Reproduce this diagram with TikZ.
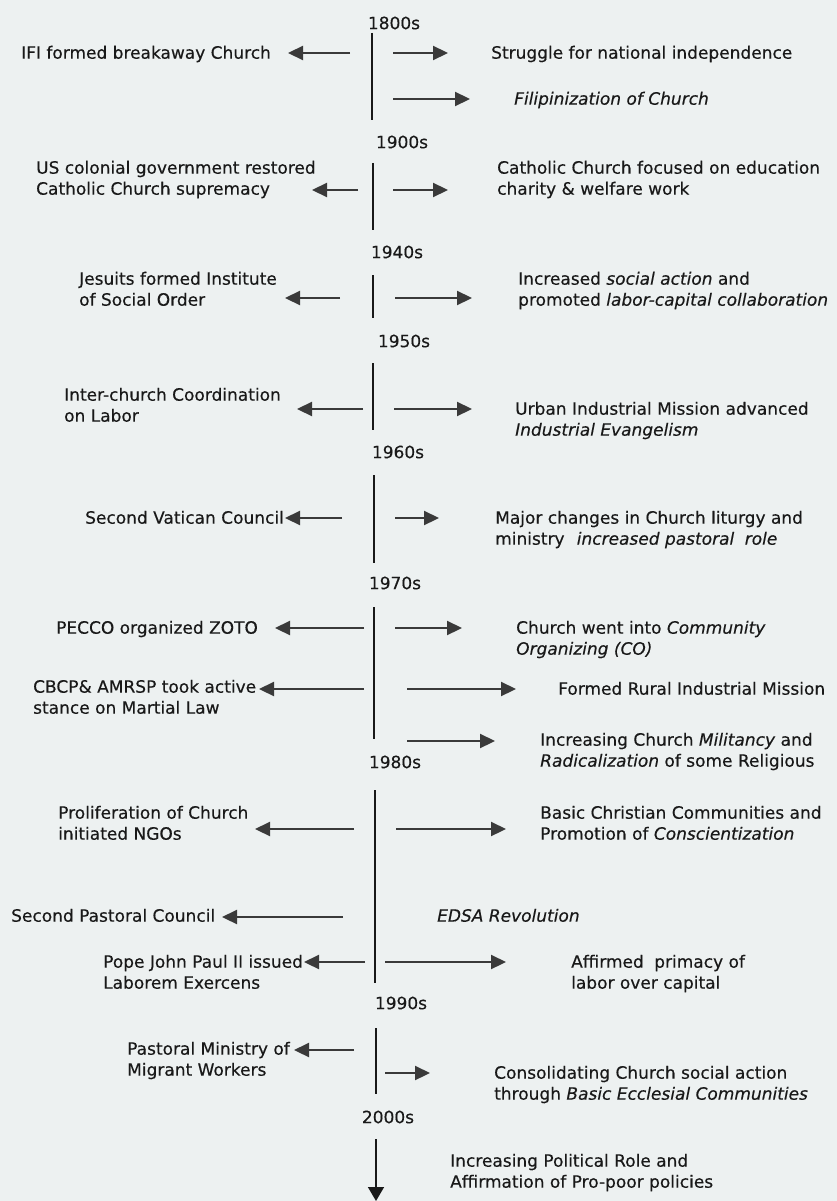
\documentclass[tikz,border=0pt]{standalone}
\usepackage{fontspec}
\setmainfont{DejaVu Sans}[FakeBold=0.35]
\usetikzlibrary{arrows.meta}
\definecolor{bg}{RGB}{237,241,241}
\definecolor{ink}{RGB}{25,25,25}
\definecolor{arrc}{RGB}{58,58,58}
\begin{document}
\begin{tikzpicture}[x=1pt,y=-1pt,
  txt/.style={inner sep=0pt, anchor=north west, align=left, text=ink, font=\fontsize{17}{21}\selectfont},
  yr/.style={inner sep=0pt, anchor=center, text=ink, font=\fontsize{17}{21}\selectfont},
  tl/.style={draw=ink, line width=1.5pt},
  arr/.style={draw=arrc, line width=2.2pt, -{Triangle[length=15pt,width=14pt]}},
]
\fill[bg] (0,0) rectangle (837,1201);
\useasboundingbox (0,0) rectangle (837,1201);

% years
\node[yr] (y1800) at (394,23) {1800s};
\node[yr] (y1900) at (402,142) {1900s};
\node[yr] (y1940) at (397,252) {1940s};
\node[yr] (y1950) at (404,341) {1950s};
\node[yr] (y1960) at (398,452) {1960s};
\node[yr] (y1970) at (395,583) {1970s};
\node[yr] (y1980) at (395,762) {1980s};
\node[yr] (y1990) at (401,1003) {1990s};
\node[yr] (y2000) at (388,1117) {2000s};

% timeline
\draw[tl] (372,33) -- (372,120);
\draw[tl] (373,163) -- (373,230);
\draw[tl] (373,275) -- (373,318);
\draw[tl] (373,363) -- (373,430);
\draw[tl] (374,475) -- (374,563);
\draw[tl] (374,607) -- (374,739);
\draw[tl] (375,790) -- (375,983);
\draw[tl] (376,1028) -- (376,1094);
\draw[tl, -{Triangle[length=14pt,width=16pt]}] (376,1139) -- (376,1201);

% left texts
\node[txt] (l1) at (21,43.8) {\strut IFI formed breakaway Church};
\node[txt] (l2) at (36,158.8) {\strut US colonial government restored\\\strut Catholic Church supremacy};
\node[txt] (l3) at (79,269.8) {\strut Jesuits formed Institute\\\strut of Social Order};
\node[txt] (l4) at (64,385.8) {\strut Inter-church Coordination\\\strut on Labor};
\node[txt] (l5) at (85,508.8) {\strut Second Vatican Council};
\node[txt] (l6) at (56,618.8) {\strut PECCO organized ZOTO};
\node[txt] (l7) at (33,677.8) {\strut CBCP\& AMRSP took active\\\strut stance on Martial Law};
\node[txt] (l8) at (58,803.8) {\strut Proliferation of Church\\\strut initiated NGOs};
\node[txt] (l9) at (11,906.8) {\strut Second Pastoral Council};
\node[txt] (l10) at (103,952.8) {\strut Pope John Paul II issued\\\strut Laborem Exercens};
\node[txt] (l11) at (127,1039.8) {\strut Pastoral Ministry of\\\strut Migrant Workers};

% right texts
\node[txt] (r1) at (491,43.8) {\strut Struggle for national independence};
\node[txt] (r2) at (514,89.8) {\strut \textit{Filipinization of Church}};
\node[txt] (r3) at (497,158.8) {\strut Catholic Church focused on education\\\strut charity \& welfare work};
\node[txt] (r4) at (518,269.8) {\strut Increased \textit{social action} and\\\strut promoted \textit{labor-capital collaboration}};
\node[txt] (r5) at (515,399.8) {\strut Urban Industrial Mission advanced\\\strut \textit{Industrial Evangelism}};
\node[txt] (r6) at (495,508.8) {\strut Major changes in Church liturgy and\\\strut ministry\hspace{0.4em} \textit{increased pastoral\hspace{0.3em} role}};
\node[txt] (r7) at (516,618.8) {\strut Church went into \textit{Community}\\\strut \textit{Organizing (CO)}};
\node[txt] (r8) at (558,679.8) {\strut Formed Rural Industrial Mission};
\node[txt] (r9) at (540,730.8) {\strut Increasing Church \textit{Militancy} and\\\strut \textit{Radicalization} of some Religious};
\node[txt] (r10) at (540,803.8) {\strut Basic Christian Communities and\\\strut Promotion of \textit{Conscientization}};
\node[txt] (r11) at (437,906.8) {\strut \textit{EDSA Revolution}};
\node[txt] (r12) at (571,952.8) {\strut Affirmed\hspace{0.3em} primacy of\\\strut labor over capital};
\node[txt] (r13) at (494,1063.8) {\strut Consolidating Church social action\\\strut through \textit{Basic Ecclesial Communities}};
\node[txt] (r14) at (450,1151.8) {\strut Increasing Political Role and\\\strut Affirmation of Pro-poor policies};

% left arrows
\draw[arr] (350,53) -- (288,53);
\draw[arr] (358,190) -- (312,190);
\draw[arr] (340,298) -- (285,298);
\draw[arr] (363,409) -- (297,409);
\draw[arr] (342,518) -- (285,518);
\draw[arr] (364,628) -- (275,628);
\draw[arr] (364,689) -- (259,689);
\draw[arr] (354,829) -- (255,829);
\draw[arr] (343,917) -- (222,917);
\draw[arr] (365,962) -- (304,962);
\draw[arr] (354,1050) -- (294,1050);

% right arrows
\draw[arr] (393,53) -- (448,53);
\draw[arr] (393,99) -- (470,99);
\draw[arr] (393,190) -- (448,190);
\draw[arr] (395,298) -- (472,298);
\draw[arr] (394,409) -- (472,409);
\draw[arr] (395,518) -- (439,518);
\draw[arr] (395,628) -- (462,628);
\draw[arr] (407,689) -- (516,689);
\draw[arr] (407,741) -- (495,741);
\draw[arr] (396,829) -- (506,829);
\draw[arr] (385,962) -- (506,962);
\draw[arr] (385,1073) -- (430,1073);
\end{tikzpicture}
\end{document}
